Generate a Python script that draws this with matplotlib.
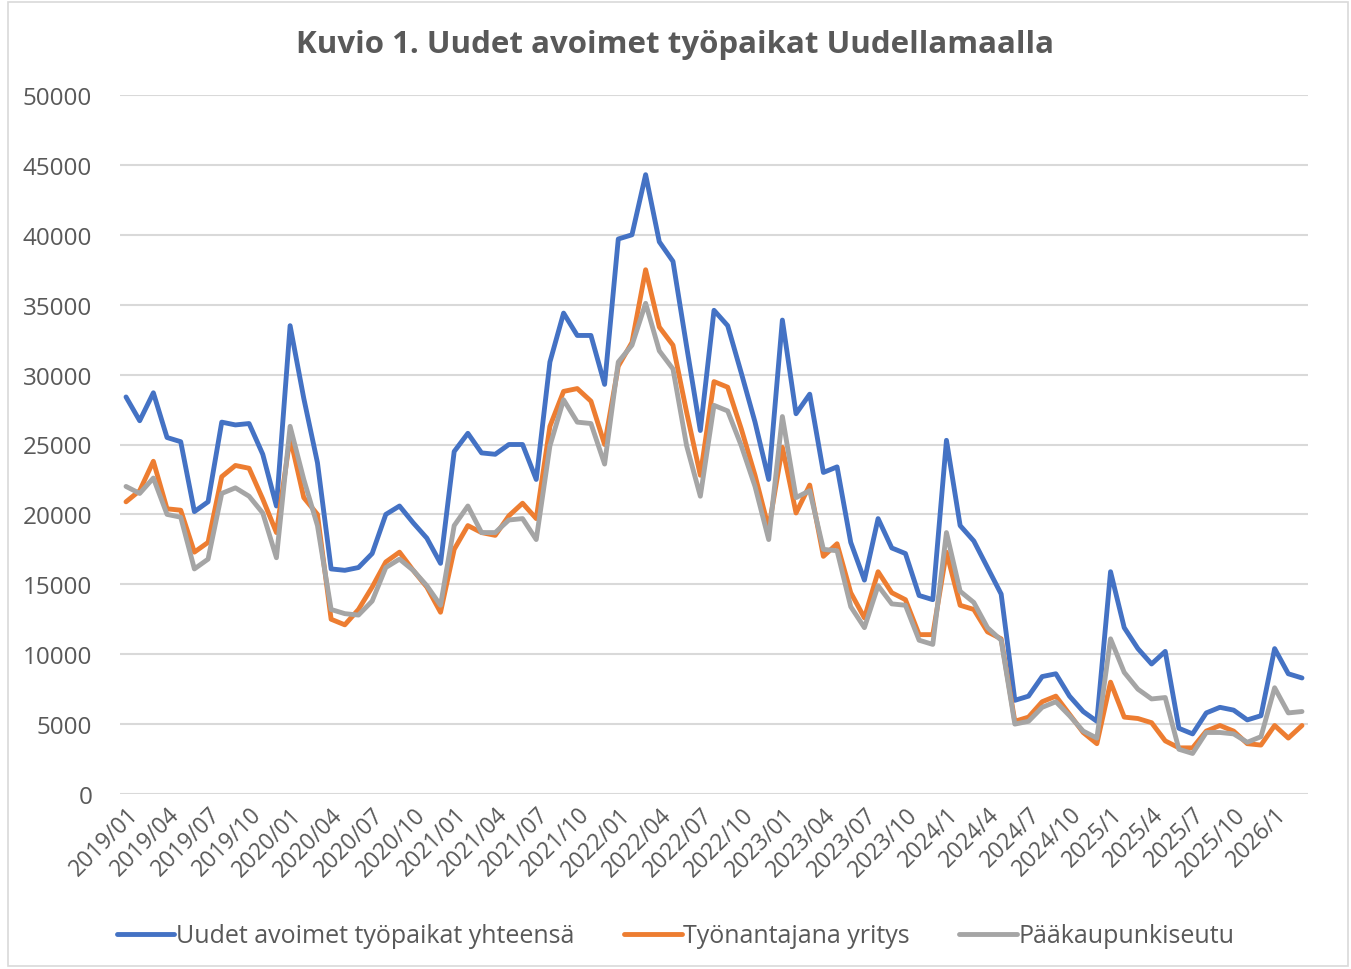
import matplotlib.pyplot as plt
from matplotlib.patches import Rectangle

# Kuukausittaiset arvot 2019/01 - 2026/03
yhteensa = [28400, 26700, 28700, 25500, 25200, 20200, 20900, 26600, 26400, 26500, 24300, 20600,
            33500, 28300, 23700, 16100, 16000, 16200, 17200, 20000, 20600, 19400, 18300, 16500,
            24500, 25800, 24400, 24300, 25000, 25000, 22500, 30900, 34400, 32800, 32800, 29300,
            39700, 40000, 44300, 39500, 38100, 32000, 26000, 34600, 33500, 30100, 26600, 22500,
            33900, 27200, 28600, 23000, 23400, 18000, 15300, 19700, 17600, 17200, 14200, 13900,
            25300, 19200, 18100, 16200, 14300, 6700, 7000, 8400, 8600, 7000, 5900, 5200,
            15900, 11900, 10400, 9300, 10200, 4700, 4300, 5800, 6200, 6000, 5300, 5600,
            10400, 8600, 8300]
yritys = [20900, 21700, 23800, 20400, 20300, 17300, 18000, 22700, 23500, 23300, 21100, 18700,
          25500, 21200, 20000, 12500, 12100, 13200, 14800, 16600, 17300, 16000, 14800, 13000,
          17500, 19200, 18700, 18500, 19900, 20800, 19700, 26300, 28800, 29000, 28100, 25000,
          30600, 32300, 37500, 33400, 32100, 27300, 22800, 29500, 29100, 26100, 22800, 19000,
          24800, 20100, 22100, 17000, 17900, 14400, 12600, 15900, 14400, 13900, 11400, 11400,
          17300, 13500, 13200, 11600, 11100, 5200, 5500, 6600, 7000, 5700, 4400, 3600,
          8000, 5500, 5400, 5100, 3800, 3300, 3300, 4500, 4900, 4500, 3600, 3500,
          4900, 4000, 4900]
paakaupunkiseutu = [22000, 21500, 22600, 20000, 19800, 16100, 16800, 21500, 21900, 21300, 20100, 16900,
                    26300, 22500, 19200, 13200, 12900, 12800, 13800, 16200, 16800, 16000, 14900, 13500,
                    19200, 20600, 18700, 18700, 19600, 19700, 18200, 24900, 28200, 26600, 26500, 23600,
                    30900, 32100, 35100, 31700, 30400, 24900, 21300, 27800, 27400, 24900, 22000, 18200,
                    27000, 21200, 21700, 17500, 17400, 13400, 11900, 14900, 13600, 13500, 11000, 10700,
                    18700, 14500, 13700, 11900, 11000, 5000, 5200, 6200, 6600, 5600, 4500, 4000,
                    11100, 8700, 7500, 6800, 6900, 3200, 2900, 4400, 4400, 4300, 3700, 4100,
                    7600, 5800, 5900]

# Joka kolmas kuukausi näkyy x-akselilla
tick_labels = ["2019/01", "2019/04", "2019/07", "2019/10", "2020/01", "2020/04", "2020/07",
               "2020/10", "2021/01", "2021/04", "2021/07", "2021/10", "2022/01", "2022/04",
               "2022/07", "2022/10", "2023/01", "2023/04", "2023/07", "2023/10", "2024/1",
               "2024/4", "2024/7", "2024/10", "2025/1", "2025/4", "2025/7", "2025/10", "2026/1"]

sarjat = ["Uudet avoimet työpaikat yhteensä", "Työnantajana yritys", "Pääkaupunkiseutu"]
varit = ["#4472C4", "#ED7D31", "#A5A5A5"]
teksti = "#595959"

plt.rcParams["font.family"] = ["Open Sans", "DejaVu Sans"]

fig = plt.figure(figsize=(13.51, 9.70), dpi=100)
fig.patches.append(Rectangle((8 / 1351, 3 / 970), 1340 / 1351, 964 / 970,
                             transform=fig.transFigure, fill=False,
                             edgecolor="#D9D9D9", linewidth=1.2))

ax = fig.add_axes([120 / 1351, 175 / 970, 1188 / 1351, 699 / 970])

x = list(range(len(yhteensa)))
for arvot, nimi, vari in zip([yhteensa, yritys, paakaupunkiseutu], sarjat, varit):
    ax.plot(x, arvot, color=vari, linewidth=3.5, label=nimi,
            solid_joinstyle="round", solid_capstyle="round")

ax.set_ylim(0, 50000)
ax.set_xlim(-0.44, len(yhteensa) - 1 + 0.44)
ax.set_yticks(range(0, 50001, 5000))
ax.set_yticklabels([str(v) for v in range(0, 50001, 5000)], fontsize=17.5, color=teksti)
ax.set_xticks(x[::3])
ax.set_xticklabels(tick_labels, rotation=45, ha="right", rotation_mode="anchor",
                   fontsize=16.5, color=teksti)
ax.tick_params(axis="both", length=0)
ax.tick_params(axis="y", pad=20)
ax.tick_params(axis="x", pad=6)

ax.grid(axis="y", color="#D9D9D9", linewidth=1.5)
ax.set_axisbelow(True)
for s in ax.spines.values():
    s.set_visible(False)

fig.text(0.5, 925 / 970, "Kuvio 1. Uudet avoimet työpaikat Uudellamaalla",
         ha="center", va="center", fontsize=22.5, fontweight="bold", color=teksti)

fig.legend(loc="center", bbox_to_anchor=(0.5, 33 / 970), ncol=3, frameon=False,
           fontsize=18, labelcolor=teksti, handlelength=2.3, handletextpad=0.05,
           columnspacing=2.0)

fig.savefig("out.png", dpi=100)
